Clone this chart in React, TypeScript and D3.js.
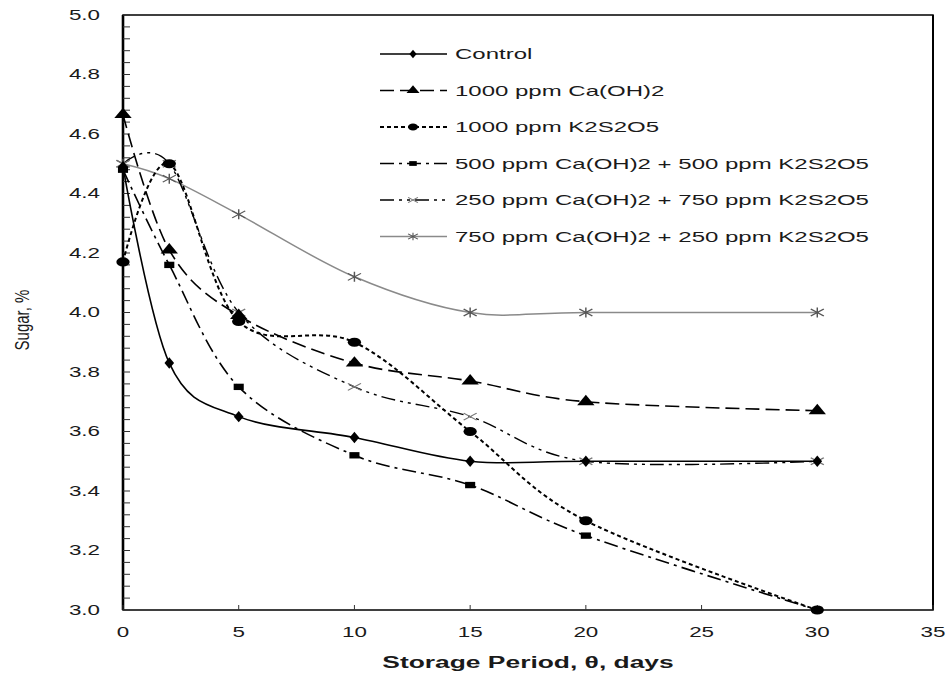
import React, { useRef, useEffect } from 'react'
import * as d3 from 'd3'

// storage period (days)
const days = [0, 2, 5, 10, 15, 20, 30]

const control = [4.49, 3.83, 3.65, 3.58, 3.5, 3.5, 3.5]
const caOH = [4.665, 4.21, 3.99, 3.83, 3.77, 3.7, 3.67]
const k2s2o5 = [4.17, 4.5, 3.97, 3.9, 3.6, 3.3, 3.0]
const mix500 = [4.48, 4.16, 3.75, 3.52, 3.42, 3.25, 3.0]
const mix250 = [4.5, 4.5, 4.0, 3.75, 3.65, 3.5, 3.5]
const mix750 = [4.5, 4.45, 4.33, 4.12, 4.0, 4.0, 4.0]

const seriesNames = [
  'Control',
  '1000 ppm Ca(OH)2',
  '1000 ppm K2S2O5',
  '500 ppm Ca(OH)2 + 500 ppm K2S2O5',
  '250 ppm Ca(OH)2 + 750 ppm K2S2O5',
  '750 ppm Ca(OH)2 + 250 ppm K2S2O5',
]

const xTicks = [0, 5, 10, 15, 20, 25, 30, 35]
const yTicks = [3.0, 3.2, 3.4, 3.6, 3.8, 4.0, 4.2, 4.4, 4.6, 4.8, 5.0]

const layout = { width: 946, height: 679, left: 123, right: 933, top: 15, bottom: 610 }
const SX = 1.6 // the original picture is stretched sideways

const styles = [
  { dash: null, width: 1.6, color: '#000', marker: 'diamond' },
  { dash: '14,6', width: 1.6, color: '#000', marker: 'triangle' },
  { dash: '4,3', width: 2, color: '#000', marker: 'circle' },
  { dash: '14,5,3,5', width: 1.6, color: '#000', marker: 'square' },
  { dash: '14,5,3,5,3,5', width: 1.4, color: '#000', marker: 'x' },
  { dash: null, width: 1.5, color: '#8a8a8a', marker: 'star' },
]

function drawMarker(g, kind, x, y, k = 1) {
  const t = `translate(${x},${y}) scale(${1.45 * k},${k})`
  if (kind === 'x' || kind === 'star') {
    let p = 'M-4.5,-3.5L4.5,3.5M-4.5,3.5L4.5,-3.5'
    if (kind === 'star') p += 'M0,-5L0,5'
    g.append('path').attr('d', p).attr('transform', t)
      .attr('stroke', kind === 'x' ? '#777' : '#555').attr('stroke-width', 1).attr('fill', 'none')
    return
  }
  const sym = { diamond: [d3.symbolDiamond, 38], triangle: [d3.symbolTriangle, 62],
    circle: [d3.symbolCircle, 66], square: [d3.symbolSquare, 56] }[kind]
  g.append('path').attr('d', d3.symbol().type(sym[0]).size(sym[1])())
    .attr('transform', kind === 'square' ? `translate(${x},${y}) scale(${1.35 * k},${0.85 * k})` : t)
    .attr('fill', '#000')
}

export default function App() {
  const ref = useRef(null)

  useEffect(() => {
    const svg = d3.select(ref.current)
    svg.selectAll('*').remove()

    const xScale = d3.scaleLinear().domain([0, 35]).range([layout.left, layout.right])
    const yScale = d3.scaleLinear().domain([3, 5]).range([layout.bottom, layout.top])

    const txt = (x, y, s, opts = {}) => svg.append('text')
      .attr('transform', `translate(${x},${y}) scale(${opts.sx ?? SX},1)`)
      .attr('text-anchor', opts.anchor || 'start')
      .attr('dominant-baseline', 'central')
      .attr('font-family', 'Arial, "Liberation Sans", sans-serif')
      .attr('font-size', opts.size || 14)
      .attr('font-weight', opts.weight || 'normal')
      .attr('fill', '#1a1a1a')
      .text(s)

    // frame
    svg.append('rect').attr('x', layout.left).attr('y', layout.top)
      .attr('width', layout.right - layout.left).attr('height', layout.bottom - layout.top)
      .attr('fill', 'none').attr('stroke', '#000').attr('stroke-width', 1.5)
    svg.append('line').attr('x1', layout.left).attr('x2', layout.left)
      .attr('y1', layout.top).attr('y2', layout.bottom).attr('stroke', '#000').attr('stroke-width', 2.6)
    svg.append('line').attr('x1', layout.right).attr('x2', layout.right)
      .attr('y1', layout.top).attr('y2', layout.bottom).attr('stroke', '#000').attr('stroke-width', 2)

    // y ticks (minor every 0.04, pointing in)
    const minor = d3.range(0, 51).map(i => 3 + i * 0.04)
    minor.forEach(v => {
      svg.append('line').attr('x1', layout.left).attr('x2', layout.left + 7)
        .attr('y1', yScale(v)).attr('y2', yScale(v)).attr('stroke', '#333').attr('stroke-width', 1)
    })
    yTicks.forEach(v => txt(100, yScale(v), v.toFixed(1), { anchor: 'end' }))

    // x ticks
    xTicks.forEach(v => {
      svg.append('line').attr('x1', xScale(v)).attr('x2', xScale(v))
        .attr('y1', layout.bottom).attr('y2', layout.bottom - 5).attr('stroke', '#333').attr('stroke-width', 1)
      txt(xScale(v), 632, String(v), { anchor: 'middle' })
    })

    // axis titles
    txt(528, 663, 'Storage Period, θ, days', { anchor: 'middle', size: 16, weight: 'bold', sx: 1.65 })
    svg.append('text')
      .attr('transform', 'translate(22,320) rotate(-90) scale(1,1.4)')
      .attr('text-anchor', 'middle').attr('dominant-baseline', 'central')
      .attr('font-family', 'Arial, "Liberation Sans", sans-serif').attr('font-size', 15)
      .attr('fill', '#1a1a1a').text('Sugar, %')

    const allSeries = [control, caOH, k2s2o5, mix500, mix250, mix750]
    const line = d3.line()
      .x(d => xScale(d[0]))
      .y(d => yScale(d[1]))
      .curve(d3.curveCardinal.tension(0))

    // draw grey series first so the black ones sit on top
    const order = [5, 4, 3, 2, 1, 0]
    order.forEach(i => {
      const st = styles[i]
      const pts = days.map((d, j) => [d, allSeries[i][j]])
      svg.append('path').attr('d', line(pts))
        .attr('fill', 'none').attr('stroke', st.color).attr('stroke-width', st.width)
        .attr('stroke-dasharray', st.dash)
      const g = svg.append('g')
      pts.forEach(p => drawMarker(g, st.marker, xScale(p[0]), yScale(p[1])))
    })

    // legend
    seriesNames.forEach((name, i) => {
      const st = styles[i]
      const y = 54 + i * 36.5
      svg.append('line').attr('x1', 380).attr('x2', 447).attr('y1', y).attr('y2', y)
        .attr('stroke', st.color).attr('stroke-width', st.width).attr('stroke-dasharray', st.dash)
      drawMarker(svg.append('g'), st.marker, 413, y, 0.75)
      txt(455, y, name, { size: 15 })
    })
  }, [])

  return (
    <svg ref={ref} width={layout.width} height={layout.height}
      style={{ position: 'absolute', left: 0, top: 0, background: '#fff' }} />
  )
}
